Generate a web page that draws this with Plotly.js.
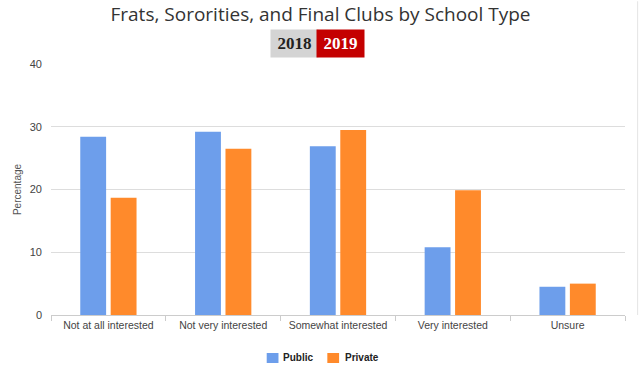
<!DOCTYPE html>
<html>
<head>
<meta charset="utf-8">
<script src="https://cdn.plot.ly/plotly-3.0.1.min.js"></script>
<style>html,body{margin:0;padding:0;background:#fff;}#chart{width:641px;height:375px;}</style>
</head>
<body>
<div id="chart"></div>
<script>
const categories = ["Not at all interested", "Not very interested", "Somewhat interested", "Very interested", "Unsure"];
const publicValues = [28.4, 29.2, 26.9, 10.8, 4.5];
const privateValues = [18.7, 26.5, 29.5, 19.9, 5.0];
const yTicks = [0, 10, 20, 30, 40];
const seriesNames = ["Public", "Private"];
const seriesColors = ["#6d9eeb", "#ff8a2b"];

const traces = [
  {type: "bar", name: seriesNames[0], x: categories, y: publicValues, marker: {color: seriesColors[0]}, hoverinfo: "skip"},
  {type: "bar", name: seriesNames[1], x: categories, y: privateValues, marker: {color: seriesColors[1]}, hoverinfo: "skip"}
];

// Manual legend (to match the compact spacing of the original)
const legendSquareX = [0.3758, 0.4814];
const legendTextX = [0.4010, 0.5080];
const legendShapes = seriesNames.map((n, i) => ({
  type: "rect", xref: "paper", yref: "paper",
  x0: legendSquareX[i], x1: legendSquareX[i] + 0.0205, y0: -0.1912, y1: -0.1514,
  line: {width: 0}, fillcolor: seriesColors[i]
}));
const legendTexts = seriesNames.map((n, i) => ({
  xref: "paper", yref: "paper", x: legendTextX[i], y: -0.1713, xanchor: "left", yanchor: "middle",
  text: "<b>" + n + "</b>", showarrow: false,
  font: {family: "Liberation Sans", size: 10, color: "#222"}
}));

const layout = {
  width: 641, height: 375,
  margin: {l: 51, r: 16, t: 64, b: 60, autoexpand: false},
  paper_bgcolor: "#fff", plot_bgcolor: "#fff",
  barmode: "group", bargap: 0.47, bargroupgap: 0.15,
  title: {text: "Frats, Sororities, and Final Clubs by School Type", x: 0.5, xanchor: "center", yref: "container", y: 0.962, yanchor: "middle",
    font: {family: "Open Sans", size: 19, color: "#333"}},
  xaxis: {type: "category", tickson: "boundaries", ticks: "outside", ticklen: 5, tickcolor: "#ccc",
    showline: true, linecolor: "#ccc", linewidth: 1, showgrid: false, automargin: false,
    tickfont: {family: "Liberation Sans", size: 10.5, color: "#444"}, fixedrange: true},
  yaxis: {range: [0, 40], tickvals: yTicks, ticktext: yTicks.map(String), showgrid: true, gridcolor: "#ddd", zeroline: false,
    showline: false, ticks: "", ticklabelstandoff: 8, automargin: false,
    tickfont: {family: "Liberation Sans", size: 11, color: "#444"},
    title: {text: "Percentage", standoff: 6, font: {family: "Liberation Sans", size: 10, color: "#555"}}, fixedrange: true},
  showlegend: false,
  annotations: [
    {xref: "paper", yref: "paper", x: 0.4242, y: 1.08, xanchor: "center", yanchor: "middle", text: "<b>2018</b>", showarrow: false,
      bgcolor: "#d4d4d4", width: 45, height: 25, font: {family: "Liberation Serif", size: 17, color: "#222"}},
    {xref: "paper", yref: "paper", x: 0.5035, y: 1.08, xanchor: "center", yanchor: "middle", text: "<b>2019</b>", showarrow: false,
      bgcolor: "#c40000", width: 45, height: 25, font: {family: "Liberation Serif", size: 17, color: "#fff"}}
  ].concat(legendTexts),
  shapes: [
    {type: "line", xref: "paper", yref: "paper", x0: 1.022, x1: 1.022, y0: 0, y1: 1.25, line: {color: "#e4e4e4", width: 1}}
  ].concat(legendShapes)
};

Plotly.newPlot("chart", traces, layout, {displayModeBar: false, staticPlot: true});
</script>
</body>
</html>
